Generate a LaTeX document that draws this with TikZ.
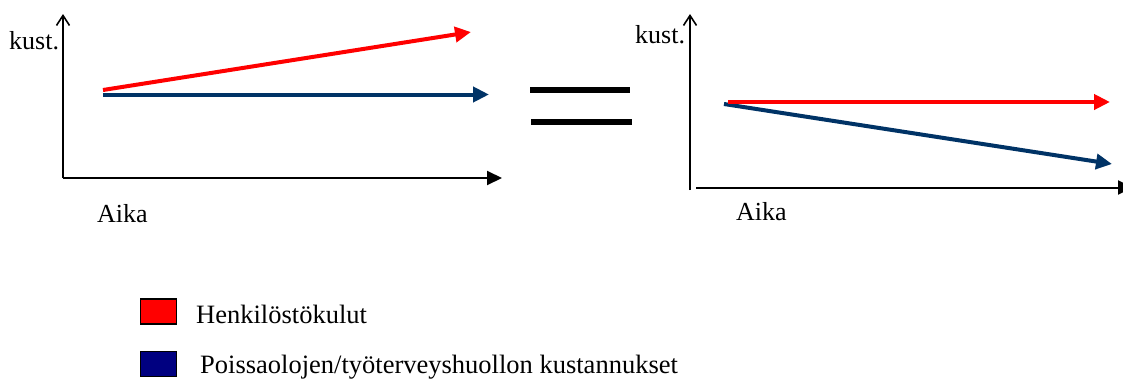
\documentclass[tikz,border=0pt]{standalone}
\usepackage{fontspec}
\setmainfont{Liberation Serif}
\usetikzlibrary{arrows.meta}
\definecolor{lred}{RGB}{255,0,0}
\definecolor{lblue}{RGB}{0,51,102}
\definecolor{navyfill}{RGB}{0,0,128}
\begin{document}
\begin{tikzpicture}[x=1pt,y=-1pt,
  axis/.style={draw=black,line width=2pt},
  yaxis/.style={axis,-{Straight Barb[length=10pt,width=13pt,line width=1.6pt]}},
  xaxis/.style={axis,-{Triangle[length=15pt,width=14pt]}},
  trend/.style={line width=4pt,-{Triangle[length=16pt,width=15pt]}},
  lbl/.style={inner sep=0pt,font=\fontsize{26}{30}\selectfont},
  legtxt/.style={inner sep=0pt,anchor=base west,font=\fontsize{26.5}{30}\selectfont},
  legbox/.style={draw=black,line width=1.5pt,minimum width=36pt,minimum height=25pt,inner sep=0pt},
  eqbar/.style={line width=6pt}]
\useasboundingbox (0,0) rectangle (1123,378);
% left chart
\coordinate (LO) at (63,178);
\coordinate (LY) at (63,14);
\coordinate (LX) at (502,178);
\draw[yaxis] (LO) -- (LY);
\draw[xaxis] (LO) -- (LX);
\coordinate (LR1) at (103,90);
\coordinate (LR2) at (471,32);
\coordinate (LB1) at (103,94.5);
\coordinate (LB2) at (489,94.5);
\draw[trend,lblue] (LB1) -- (LB2);
\draw[trend,lred] (LR1) -- (LR2);
\node[lbl,anchor=base west] (lk) at (9,49) {kust.};
\node[lbl,anchor=base west] (la) at (97,222) {Aika};
% equals
\coordinate (E1a) at (530,90);
\coordinate (E1b) at (630,90);
\coordinate (E2a) at (531,122);
\coordinate (E2b) at (632,122);
\draw[eqbar] (E1a) -- (E1b);
\draw[eqbar] (E2a) -- (E2b);
% right chart
\coordinate (RO) at (690,190);
\coordinate (RY) at (690,14);
\coordinate (RXa) at (696,187.5);
\coordinate (RXb) at (1133,187.5);
\draw[yaxis] (RO) -- (RY);
\draw[xaxis] (RXa) -- (RXb);
\coordinate (RR1) at (728,102);
\coordinate (RR2) at (1110,102);
\coordinate (RB1) at (724,104);
\coordinate (RB2) at (1112,164);
\draw[trend,lblue] (RB1) -- (RB2);
\draw[trend,lred] (RR1) -- (RR2);
\node[lbl,anchor=base west] (rk) at (635,43) {kust.};
\node[lbl,anchor=base west] (ra) at (736,220) {Aika};
% legend
\node[legbox,fill=lred] (b1) at (158.5,311.5) {};
\node[legbox,fill=navyfill] (b2) at (158.5,364) {};
\node[legtxt] (t1) at (196,323) {Henkilöstökulut};
\node[legtxt] (t2) at (200,373) {Poissaolojen/työterveyshuollon kustannukset};
\end{tikzpicture}
\end{document}
